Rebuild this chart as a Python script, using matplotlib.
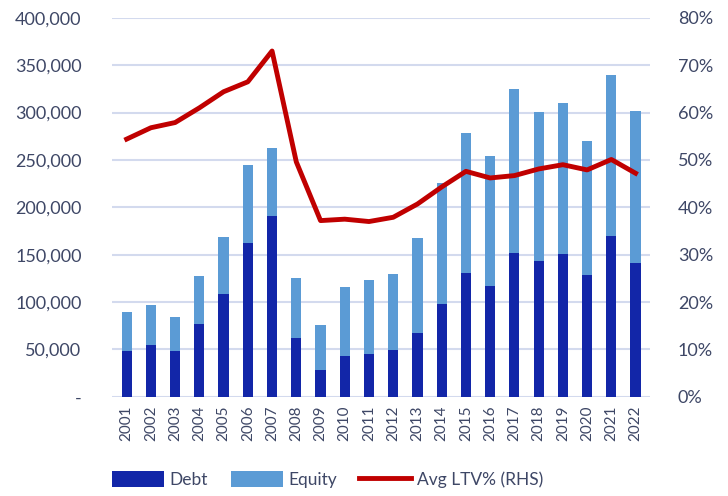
import numpy as np
import matplotlib
matplotlib.use('Agg')
import matplotlib.pyplot as plt
from matplotlib.ticker import FuncFormatter

years = [str(y) for y in range(2001, 2023)]
debt = [48300, 54700, 48300, 77200, 108900, 162200, 191000, 62000, 28200, 43000, 45100,
        49400, 67700, 98300, 131100, 117400, 151900, 143500, 150900, 129000, 169600, 141700]
total = [89600, 97000, 84600, 127300, 169200, 244700, 262600, 125500, 76100, 116000, 123700,
         130000, 168100, 225600, 278100, 254500, 325300, 300700, 310200, 269600, 339800, 301300]
equity = [t - d for t, d in zip(total, debt)]
ltv = [54.4, 56.8, 57.9, 61.0, 64.4, 66.5, 73.0, 49.6, 37.2, 37.5, 37.0,
       37.9, 40.7, 44.3, 47.6, 46.2, 46.7, 48.1, 49.0, 47.9, 50.1, 47.2]

txt = '#3e4766'
plt.rcParams['font.family'] = ['Lato', 'DejaVu Sans']

fig = plt.figure(figsize=(7.28, 4.96), dpi=100)
ax = fig.add_axes([0.154, 0.2, 0.739, 0.764])
x = np.arange(len(years))

ax.bar(x, debt, width=0.42, color='#1226a8', label='Debt', zorder=2)
ax.bar(x, equity, width=0.42, bottom=debt, color='#5b9bd5', label='Equity', zorder=2)

ax.set_ylim(0, 400000)
ax.set_yticks(np.arange(0, 400001, 50000))
ax.yaxis.set_major_formatter(FuncFormatter(lambda v, p: '-' if v == 0 else f'{int(v):,}'))
ax.grid(axis='y', color='#d3daee', linewidth=1.5, zorder=0)
ax.set_axisbelow(True)
ax.set_xlim(-0.6, len(years) - 0.4)
ax.set_xticks(x)
ax.set_xticklabels(years, rotation=90, fontsize=11, color=txt)
ax.tick_params(axis='y', labelsize=13, colors=txt, length=0, pad=22)
ax.tick_params(axis='x', length=0, pad=6)
for s in ax.spines.values():
    s.set_visible(False)

ax2 = ax.twinx()
ax2.plot(x, ltv, color='#c00000', linewidth=3.5, label='Avg LTV% (RHS)', zorder=3)
ax2.set_ylim(0, 80)
ax2.set_yticks(np.arange(0, 81, 10))
ax2.yaxis.set_major_formatter(FuncFormatter(lambda v, p: f'{int(v)}%'))
ax2.tick_params(axis='y', labelsize=13, colors=txt, length=0, pad=20)
for s in ax2.spines.values():
    s.set_visible(False)

h1, l1 = ax.get_legend_handles_labels()
h2, l2 = ax2.get_legend_handles_labels()
fig.legend(h1 + h2, l1 + l2, loc='lower center', bbox_to_anchor=(0.45, -0.015), ncol=3,
           frameon=False, fontsize=12.5, labelcolor=txt, handlelength=3.0, handleheight=1.0,
           columnspacing=1.3, handletextpad=0.3)

fig.savefig('out.png', dpi=100)
